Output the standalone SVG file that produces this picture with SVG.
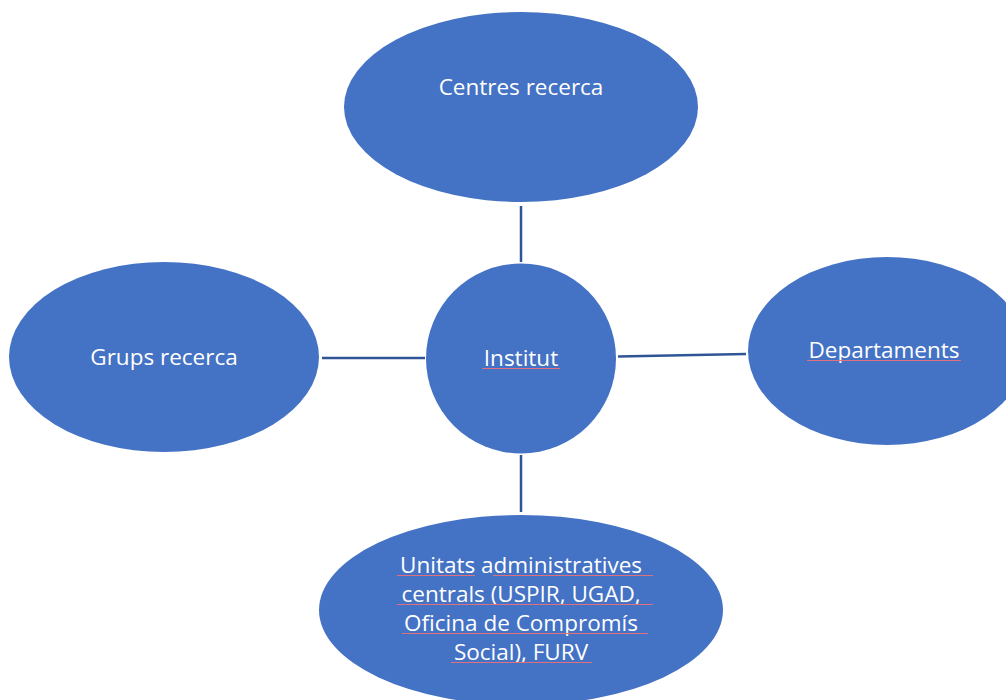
<svg xmlns="http://www.w3.org/2000/svg" width="1006" height="700" viewBox="0 0 1006 700">
<style>
.node{fill:#4472C4;}
.lbl{font-family:"Open Sans","Liberation Sans",sans-serif;font-size:22.5px;fill:#ffffff;text-anchor:middle;}
.edge{stroke:#2F5597;stroke-width:2.5;fill:none;}
.sp{stroke:#E0707E;stroke-width:1;fill:none;}
</style>
<rect width="1006" height="700" fill="#ffffff"/>
<g id="connectors">
<line class="edge" x1="521" y1="206" x2="521" y2="262"/>
<line class="edge" x1="322" y1="358" x2="425" y2="358"/>
<line class="edge" x1="618" y1="356.5" x2="746" y2="354"/>
<line class="edge" x1="521" y1="455" x2="521" y2="512"/>
</g>
<g id="centres">
<ellipse class="node" cx="521" cy="107" rx="177" ry="95"/>
<text class="lbl" x="521" y="95">Centres recerca</text>
</g>
<g id="grups">
<ellipse class="node" cx="164" cy="357" rx="155" ry="95"/>
<text class="lbl" x="164" y="365">Grups recerca</text>
</g>
<g id="institut">
<circle class="node" cx="521" cy="358.5" r="95"/>
<text class="lbl" x="521" y="366">Institut</text>
<line class="sp" x1="482" y1="368.5" x2="560" y2="368.5"/>
</g>
<g id="departaments">
<ellipse class="node" cx="887" cy="351" rx="139" ry="94"/>
<text class="lbl" x="884" y="358">Departaments</text>
<line class="sp" x1="807" y1="360.5" x2="961" y2="360.5"/>
</g>
<g id="unitats">
<ellipse class="node" cx="521" cy="610" rx="202" ry="95"/>
<text class="lbl" x="521" y="573">Unitats administratives</text>
<text class="lbl" x="521" y="602">centrals (USPIR, UGAD,</text>
<text class="lbl" x="521" y="631">Oficina de Compromís</text>
<text class="lbl" x="521" y="660">Social), FURV</text>
<line class="sp" x1="397" y1="575.5" x2="475" y2="575.5"/>
<line class="sp" x1="493" y1="575.5" x2="653" y2="575.5"/>
<line class="sp" x1="397" y1="604.5" x2="653" y2="604.5"/>
<line class="sp" x1="402" y1="633.5" x2="648" y2="633.5"/>
<line class="sp" x1="451" y1="662.5" x2="592" y2="662.5"/>
</g>
</svg>
